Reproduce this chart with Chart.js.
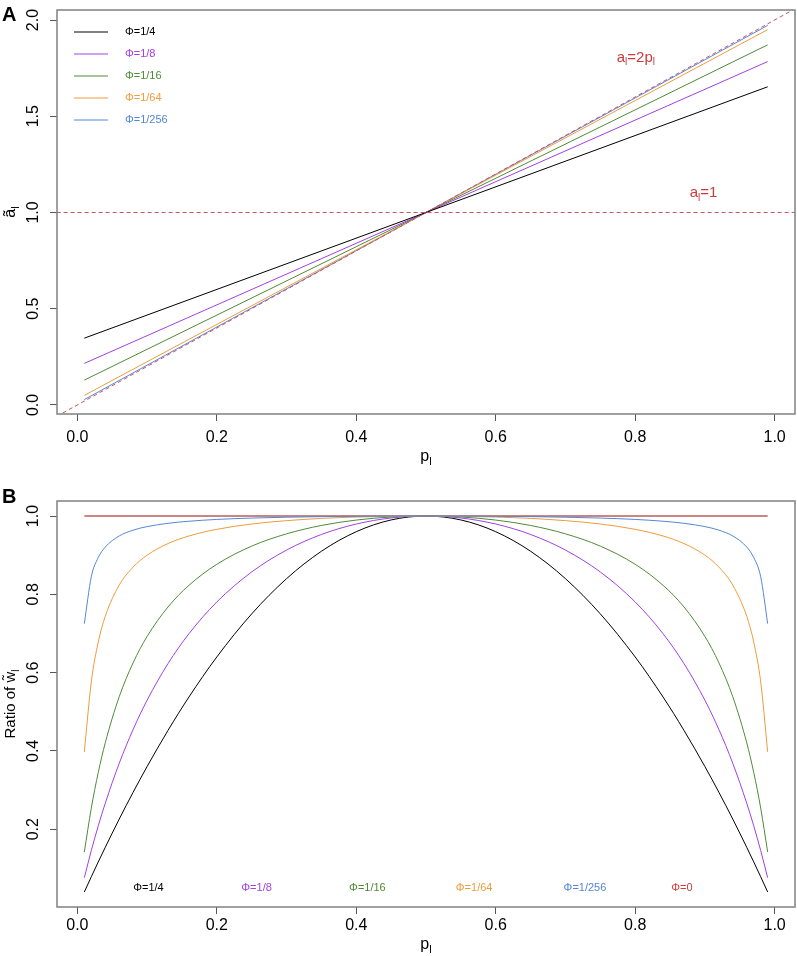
<!DOCTYPE html>
<html><head><meta charset="utf-8">
<script src="https://cdn.jsdelivr.net/npm/chart.js@4.4.0/dist/chart.umd.min.js"></script>
<style>
html,body{margin:0;padding:0;background:#fff;}
#wrap{position:relative;width:797px;height:956px;background:#fff;}
#ca{position:absolute;left:0;top:0;}
#cb{position:absolute;left:0;top:470px;}
</style></head><body>
<div id="wrap">
<canvas id="ca" width="797" height="470"></canvas>
<canvas id="cb" width="797" height="486"></canvas>
</div>
<script>
const FF = '"Liberation Sans", Arial, Helvetica, sans-serif';
// ---------- shared ----------
const phiLabels = ['Φ=1/4','Φ=1/8','Φ=1/16','Φ=1/64','Φ=1/256'];
const phiColors = ['#000000','#a23fe6','#4f8a37','#ef9b3a','#5287d8'];
const refColor = '#d0505e';
const zeroLabel = 'Φ=0';
const zeroColor = '#d43c3c';
const zeroLineColor = '#cc8585';
const xTicks = [0, 0.2, 0.4, 0.6, 0.8, 1.0];
const xTickLabels = ['0.0','0.2','0.4','0.6','0.8','1.0'];

// ---------- panel A ----------
const pA = [0.01, 0.5, 0.99];
const aPhi4   = [0.347, 1, 1.653];
const aPhi8   = [0.216, 1, 1.784];
const aPhi16  = [0.129, 1, 1.871];
const aPhi64  = [0.050, 1, 1.950];
const aPhi256 = [0.028, 1, 1.972];
const refX    = [-0.1, 1.1];
const refOne  = [1, 1];
const refTwoP = [-0.2, 2.2];
const yTicksA = [0, 0.5, 1.0, 1.5, 2.0];
const yTickLabelsA = ['0.0','0.5','1.0','1.5','2.0'];

// ---------- panel B ----------
const pB = [0.01,0.02,0.03,0.04,0.06,0.08,0.10,0.13,0.16,0.20,0.25,0.30,0.35,0.40,0.45,0.50,
            0.55,0.60,0.65,0.70,0.75,0.80,0.84,0.87,0.90,0.92,0.94,0.96,0.97,0.98,0.99];
const wPhi4 = [0.0396,0.0784,0.1164,0.1536,0.2256,0.2944,0.3600,0.4524,0.5376,0.6400,0.7500,0.8400,0.9100,0.9600,0.9900,1.0000,
               0.9900,0.9600,0.9100,0.8400,0.7500,0.6400,0.5376,0.4524,0.3600,0.2944,0.2256,0.1536,0.1164,0.0784,0.0396];
const wPhi8 = [0.0762,0.1454,0.2085,0.2663,0.3681,0.4549,0.5294,0.6230,0.6993,0.7805,0.8571,0.9130,0.9529,0.9796,0.9950,1.0000,
               0.9950,0.9796,0.9529,0.9130,0.8571,0.7805,0.6993,0.6230,0.5294,0.4549,0.3681,0.2663,0.2085,0.1454,0.0762];
const wPhi16 = [0.1416,0.2539,0.3451,0.4206,0.5382,0.6253,0.6923,0.7677,0.8230,0.8767,0.9231,0.9545,0.9759,0.9897,0.9975,1.0000,
                0.9975,0.9897,0.9759,0.9545,0.9231,0.8767,0.8230,0.7677,0.6923,0.6253,0.5382,0.4206,0.3451,0.2539,0.1416];
const wPhi64 = [0.3975,0.5765,0.6782,0.7438,0.8234,0.8697,0.9000,0.9297,0.9490,0.9660,0.9796,0.9882,0.9939,0.9974,0.9994,1.0000,
                0.9994,0.9974,0.9939,0.9882,0.9796,0.9660,0.9490,0.9297,0.9000,0.8697,0.8234,0.7438,0.6782,0.5765,0.3975];
const wPhi256 = [0.7252,0.8448,0.8940,0.9207,0.9491,0.9639,0.9730,0.9814,0.9867,0.9913,0.9948,0.9970,0.9985,0.9993,0.9998,1.0000,
                 0.9998,0.9993,0.9985,0.9970,0.9948,0.9913,0.9867,0.9814,0.9730,0.9639,0.9491,0.9207,0.8940,0.8448,0.7252];
const wPhi0 = [1,1,1,1,1,1,1,1,1,1,1,1,1,1,1,1,1,1,1,1,1,1,1,1,1,1,1,1,1,1,1];
const yTicksB = [0.2, 0.4, 0.6, 0.8, 1.0];
const yTickLabelsB = ['0.2','0.4','0.6','0.8','1.0'];
const bLabelX = [0.102, 0.257, 0.416, 0.569, 0.728, 0.867];
const bLabelY = 0.05;

// ---------- helpers ----------
function pts(xs, ys){ return xs.map((x,i)=>({x:x, y:ys[i]})); }
function rich(ctx, x, y, parts, o){
  const size = o.size, sub = o.sub || Math.round(size*0.68);
  ctx.save(); ctx.translate(x,y); if(o.rot) ctx.rotate(o.rot);
  const wt = o.bold ? 'bold ' : '';
  let w = 0;
  parts.forEach(p=>{ ctx.font = wt+(p[1]?sub:size)+'px '+FF; p.w = ctx.measureText(p[0]).width; w += p.w; });
  let cx = o.align==='center' ? -w/2 : (o.align==='right' ? -w : 0);
  ctx.textBaseline = 'middle'; ctx.textAlign = 'left'; ctx.fillStyle = o.color || '#000';
  parts.forEach(p=>{ ctx.font = wt+(p[1]?sub:size)+'px '+FF; ctx.fillText(p[0], cx, p[1] ? size*0.32 : 0); cx += p.w; });
  ctx.restore();
}
function xScaleCfg(min, max, h, pad){
  return { type:'linear', min:min, max:max,
    afterBuildTicks: s => { s.ticks = xTicks.map(v=>({value:v})); },
    afterFit: s => { s.height = h; },
    ticks:{ autoSkip:false, maxRotation:0, minRotation:0, padding:pad, color:'#000',
      font:{family:FF, size:16}, callback:(v)=>{ const i = xTicks.indexOf(v); return i>=0 ? xTickLabels[i] : ''; } },
    grid:{ drawOnChartArea:false, drawTicks:true, tickLength:7, color:'#555', lineWidth:1 },
    border:{ display:false } };
}
function yScaleCfg(min, max, ticks){
  return { type:'linear', min:min, max:max,
    afterBuildTicks: s => { s.ticks = ticks.map(v=>({value:v})); },
    afterFit: s => { s.width = 57; },
    ticks:{ display:false },
    grid:{ drawOnChartArea:false, drawTicks:true, tickLength:7, color:'#555', lineWidth:1 },
    border:{ display:false } };
}
function boxAndYLabels(chart, ticks, labels){
  const ctx = chart.ctx, a = chart.chartArea, y = chart.scales.y;
  ctx.save(); ctx.strokeStyle = '#808080'; ctx.lineWidth = 1.5;
  ctx.strokeRect(a.left, a.top, a.right-a.left, a.bottom-a.top); ctx.restore();
  ticks.forEach((v,i)=>{ rich(ctx, 34, y.getPixelForValue(v), [[labels[i],false]], {size:16, rot:-Math.PI/2, align:'center'}); });
}
function line(data, color, w, dash){
  return { data:data, borderColor:color, borderWidth:w||1, pointRadius:0, fill:false,
           borderDash:dash||[], tension:0, clip:0 };
}

// ---------- Chart A ----------
const plugA = { id:'plugA', afterDraw(chart){
  const ctx = chart.ctx, a = chart.chartArea, xs = chart.scales.x, ys = chart.scales.y;
  boxAndYLabels(chart, yTicksA, yTickLabelsA);
  rich(ctx, (a.left+a.right)/2, 457, [['p',false],['l',true]], {size:16, align:'center'});
  rich(ctx, 11, (a.top+a.bottom)/2, [['ã',false],['l',true]], {size:16, rot:-Math.PI/2, align:'center'});
  rich(ctx, 2, 15, [['A',false]], {size:20, bold:true});
  // legend
  phiLabels.forEach((t,i)=>{
    const yy = 32 + i*22;
    ctx.save(); ctx.strokeStyle = phiColors[i]; ctx.lineWidth = 1;
    ctx.beginPath(); ctx.moveTo(74, yy); ctx.lineTo(108, yy); ctx.stroke(); ctx.restore();
    rich(ctx, 125, yy, [[t,false]], {size:11, color: i===0 ? '#000' : phiColors[i]});
  });
  rich(ctx, xs.getPixelForValue(0.801), ys.getPixelForValue(1.803), [['a',false],['l',true],['=2p',false],['l',true]], {size:15, sub:10, align:'center', color:'#cc3a3a'});
  rich(ctx, xs.getPixelForValue(0.898), ys.getPixelForValue(1.101), [['a',false],['l',true],['=1',false]], {size:15, sub:10, align:'center', color:'#cc3a3a'});
}};
new Chart(document.getElementById('ca'), {
  type:'line',
  data:{ datasets:[
    line(pts(refX, refOne), refColor, 1, [4,3]),
    line(pts(refX, refTwoP), refColor, 1, [4,3]),
    line(pts(pA, aPhi4), phiColors[0]),
    line(pts(pA, aPhi8), phiColors[1]),
    line(pts(pA, aPhi16), phiColors[2]),
    line(pts(pA, aPhi64), phiColors[3]),
    line(pts(pA, aPhi256), phiColors[4]),
  ]},
  options:{ responsive:false, animation:false, events:[],
    layout:{ padding:{ left:0, right:2, top:10, bottom:0 } },
    plugins:{ legend:{display:false}, tooltip:{enabled:false} },
    scales:{ x: xScaleCfg(-0.0292, 1.0292, 56, 7), y: yScaleCfg(-0.047, 2.052, yTicksA) } },
  plugins:[plugA]
});

// ---------- Chart B ----------
const plugB = { id:'plugB', afterDraw(chart){
  const ctx = chart.ctx, a = chart.chartArea, xs = chart.scales.x, ys = chart.scales.y;
  boxAndYLabels(chart, yTicksB, yTickLabelsB);
  rich(ctx, (a.left+a.right)/2, 475, [['p',false],['l',true]], {size:16, align:'center'});
  rich(ctx, 11, (a.top+a.bottom)/2, [['Ratio of w̃',false],['l',true]], {size:15, rot:-Math.PI/2, align:'center'});
  rich(ctx, 2, 27, [['B',false]], {size:20, bold:true});
  const labs = phiLabels.concat([zeroLabel]);
  const cols = phiColors.concat([zeroColor]);
  labs.forEach((t,i)=>{
    rich(ctx, xs.getPixelForValue(bLabelX[i]), ys.getPixelForValue(bLabelY), [[t,false]], {size:11, align:'center', color:cols[i]});
  });
}};
function curve(data, color, w){
  const d = line(data, color, w); d.cubicInterpolationMode = 'monotone'; return d;
}
new Chart(document.getElementById('cb'), {
  type:'line',
  data:{ datasets:[
    curve(pts(pB, wPhi256), phiColors[4]),
    curve(pts(pB, wPhi64), phiColors[3]),
    curve(pts(pB, wPhi16), phiColors[2]),
    curve(pts(pB, wPhi8), phiColors[1]),
    curve(pts(pB, wPhi4), phiColors[0]),
    curve(pts(pB, wPhi0), zeroLineColor, 2),
  ]},
  options:{ responsive:false, animation:false, events:[],
    layout:{ padding:{ left:0, right:2, top:31, bottom:0 } },
    plugins:{ legend:{display:false}, tooltip:{enabled:false} },
    scales:{ x: xScaleCfg(-0.0292, 1.0292, 49, 2), y: yScaleCfg(0.0012, 1.0384, yTicksB) } },
  plugins:[plugB]
});
</script>
</body></html>
